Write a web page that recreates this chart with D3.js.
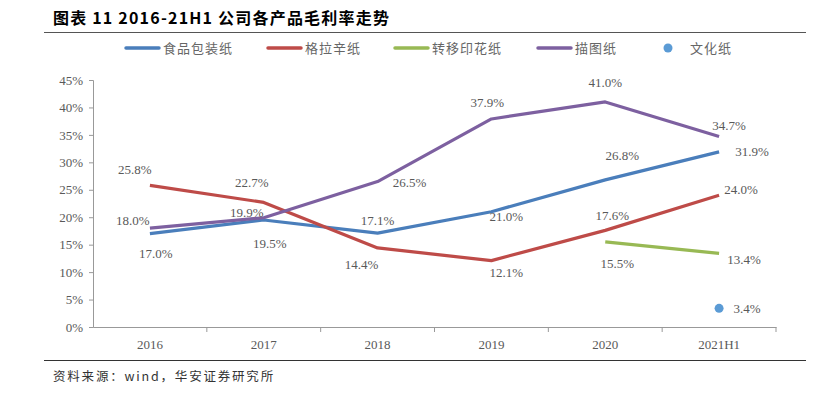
<!DOCTYPE html>
<html>
<head>
<meta charset="utf-8">
<script src="https://cdn.jsdelivr.net/npm/d3@7"></script>
<style>
  body { margin: 0; background: #fff; }
  text { font-family: "Liberation Serif", "Times New Roman", serif; }
  .cjk { font-family: "Noto Sans CJK SC", sans-serif; }
</style>
</head>
<body>
<div id="chart"></div>
<script>
// data
var years = ["2016", "2017", "2018", "2019", "2020", "2021H1"];
var packaging = [17.0, 19.5, 17.1, 21.0, 26.8, 31.9];   // 食品包装纸
var glassine = [25.8, 22.7, 14.4, 12.1, 17.6, 24.0];    // 格拉辛纸
var transfer = [null, null, null, null, 15.5, 13.4];    // 转移印花纸
var tracing = [18.0, 19.9, 26.5, 37.9, 41.0, 34.7];     // 描图纸
var culture = [null, null, null, null, null, 3.4];      // 文化纸
var yTicks = [0, 5, 10, 15, 20, 25, 30, 35, 40, 45];

// label offsets (dx, dy) per point, kept apart from the data
var labelOffsets = {
  packaging: [[6, 24], [6, 28], [0, -8], [15, 9], [17, -20], [33, 4]],
  glassine: [[-15, -11], [-12, -15], [-16, 21], [15, 16], [7, -10], [22, -1]],
  transfer: [null, null, null, null, [12, 26], [25, 11]],
  tracing: [[-17, -3], [-17, -1], [32, 5], [-4, -12], [0, -15], [10, -7]],
  culture: [null, null, null, null, null, [28, 5]]
};

var series = [
  { key: "packaging", name: "食品包装纸", values: packaging, color: "#4A7EBB", type: "line" },
  { key: "glassine", name: "格拉辛纸", values: glassine, color: "#BE4B48", type: "line" },
  { key: "transfer", name: "转移印花纸", values: transfer, color: "#98B954", type: "line" },
  { key: "tracing", name: "描图纸", values: tracing, color: "#7D60A0", type: "line" },
  { key: "culture", name: "文化纸", values: culture, color: "#5B9BD5", type: "dot" }
];

var W = 829, H = 393;
var margin = { top: 80, left: 93, right: 53, bottom: 66 },
  width = W - margin.left - margin.right,
  height = H - margin.top - margin.bottom;

var root = d3.select("#chart").append("svg")
  .attr("width", W)
  .attr("height", H);

// title and rules
root.append("text")
  .attr("class", "cjk")
  .attr("x", 53).attr("y", 24)
  .attr("font-size", 16).attr("font-weight", "bold")
  .attr("letter-spacing", 1.2)
  .attr("fill", "#000")
  .text("图表 11 2016-21H1 公司各产品毛利率走势");

root.append("line")
  .attr("x1", 44).attr("x2", 806).attr("y1", 32.5).attr("y2", 32.5)
  .attr("stroke", "#555").attr("stroke-width", 1.2);

root.append("line")
  .attr("x1", 44).attr("x2", 806).attr("y1", 360.5).attr("y2", 360.5)
  .attr("stroke", "#333").attr("stroke-width", 1.2);

root.append("text")
  .attr("class", "cjk")
  .attr("x", 53).attr("y", 381)
  .attr("font-size", 12.5).attr("fill", "#333")
  .attr("letter-spacing", 1.8)
  .text("资料来源：wind，华安证券研究所");

// legend
var legendX = [126, 268, 395, 538, 668];
var legend = root.append("g").attr("transform", "translate(0,48)");
series.forEach(function(s, i) {
  var g = legend.append("g").attr("transform", "translate(" + legendX[i] + ",0)");
  if (s.type === "line") {
    g.append("line")
      .attr("x1", 0).attr("x2", 33).attr("y1", 0).attr("y2", 0)
      .attr("stroke", s.color).attr("stroke-width", 3.5)
      .attr("stroke-linecap", "round");
    g.append("text").attr("class", "cjk")
      .attr("x", 37).attr("y", 5)
      .attr("font-size", 13).attr("fill", "#666")
      .attr("letter-spacing", 1)
      .text(s.name);
  } else {
    g.append("circle").attr("cx", 0).attr("cy", 0).attr("r", 4.5).attr("fill", s.color);
    g.append("text").attr("class", "cjk")
      .attr("x", 22).attr("y", 5)
      .attr("font-size", 13).attr("fill", "#666")
      .attr("letter-spacing", 1)
      .text(s.name);
  }
});

var svg = root.append("g")
  .attr("transform", "translate(" + margin.left + "," + margin.top + ")");

// scales
var xPositionScale = d3.scaleBand()
  .domain(years)
  .range([0, width]);

var yPositionScale = d3.scaleLinear()
  .domain([0, 45])
  .range([height, 0]);

function cx(i) { return xPositionScale(years[i]) + xPositionScale.bandwidth() / 2; }

// axes
var xAxis = d3.axisBottom(xPositionScale).tickSize(0).tickPadding(13);
var xg = svg.append("g")
  .attr("class", "axis x-axis")
  .attr("transform", "translate(0," + height + ")")
  .call(xAxis);
xg.select(".domain").attr("stroke", "#999");
xg.selectAll("text").attr("font-size", 13).attr("fill", "#595959")
  .attr("font-family", "Liberation Serif, serif");
// tick marks at band boundaries
xg.selectAll(".bound")
  .data(years)
  .enter().append("line")
  .attr("class", "bound")
  .attr("x1", function(d) { return xPositionScale(d) + xPositionScale.bandwidth(); })
  .attr("x2", function(d) { return xPositionScale(d) + xPositionScale.bandwidth(); })
  .attr("y1", 0).attr("y2", 5)
  .attr("stroke", "#999");

var yAxis = d3.axisLeft(yPositionScale)
  .tickValues(yTicks)
  .tickSize(4)
  .tickPadding(6)
  .tickFormat(function(d) { return d + "%"; });
var yg = svg.append("g")
  .attr("class", "axis y-axis")
  .call(yAxis);
yg.select(".domain").attr("stroke", "#999");
yg.selectAll(".tick line").attr("stroke", "#999");
yg.selectAll("text").attr("font-size", 13).attr("fill", "#595959")
  .attr("font-family", "Liberation Serif, serif");

// lines
var line = d3.line()
  .defined(function(d) { return d != null; })
  .x(function(d, i) { return cx(i); })
  .y(function(d) { return yPositionScale(d); });

series.forEach(function(s) {
  if (s.type === "line") {
    svg.append("path")
      .datum(s.values)
      .attr("d", line)
      .attr("stroke", s.color)
      .attr("stroke-width", 3.2)
      .attr("stroke-linejoin", "round")
      .attr("fill", "none");
  } else {
    svg.selectAll(".dot-" + s.key)
      .data(s.values.map(function(v, i) { return { v: v, i: i }; }).filter(function(d) { return d.v != null; }))
      .enter().append("circle")
      .attr("class", "dot-" + s.key)
      .attr("r", 4.5)
      .attr("cx", function(d) { return cx(d.i); })
      .attr("cy", function(d) { return yPositionScale(d.v); })
      .attr("fill", s.color);
  }
});

// data labels
series.forEach(function(s) {
  var offs = labelOffsets[s.key];
  s.values.forEach(function(v, i) {
    if (v == null) return;
    svg.append("text")
      .attr("x", cx(i) + offs[i][0])
      .attr("y", yPositionScale(v) + offs[i][1])
      .attr("text-anchor", "middle")
      .attr("font-size", 13)
      .attr("fill", "#595959")
      .text(v.toFixed(1) + "%");
  });
});
</script>
</body>
</html>
